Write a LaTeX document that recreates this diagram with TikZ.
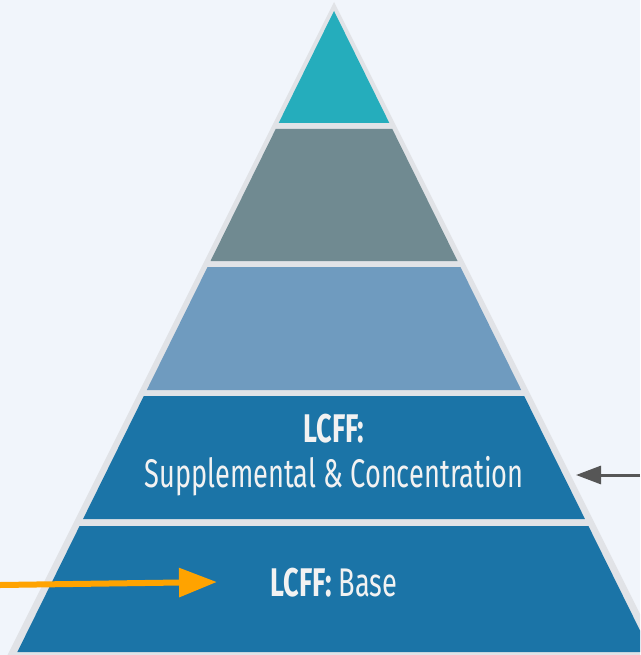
\documentclass[tikz,border=0pt]{standalone}
\usepackage{fontspec}
\setmainfont[FakeStretch=0.68]{Fira Sans}
\usepackage{tikz}
\usetikzlibrary{arrows.meta}
\definecolor{bgblue}{HTML}{F1F5FB}
\definecolor{rim}{HTML}{E1E3E7}
\definecolor{tealtop}{HTML}{25ADBC}
\definecolor{slategray}{HTML}{708A91}
\definecolor{paleblue}{HTML}{6F9BBF}
\definecolor{deepblue}{HTML}{1B74A7}
\definecolor{arrorange}{HTML}{FFA300}
\definecolor{arrgray}{HTML}{565656}
\definecolor{txtwhite}{HTML}{F2F2F2}

\begin{document}
\begin{tikzpicture} [x=1pt, y=-1pt]
\fill[bgblue] (0,0) rectangle (640,655);
\useasboundingbox (0,0) rectangle (640,655);
\begin{scope}
\clip (0,0) rectangle (640,655);
\fill[rim] (334,2)--(660.5,655)--(7.5,655)--cycle;

\foreach \ya/\yb/\col in {11/123/tealtop, 129/261/slategray, 267/390/paleblue, 396/519/deepblue, 526/652/deepblue} {
  \fill[\col] ({334-0.494*(\ya-11)},\ya)--({334+0.494*(\ya-11)},\ya)--({334+0.494*(\yb-11)},\yb)--({334-0.494*(\yb-11)},\yb)--cycle;
}
\end{scope}

\node[txtwhite, anchor=base, font=\fontsize{40}{40}\selectfont\bfseries, inner sep=0] (lcffsup) at (334,442) {LCFF:};
\node[txtwhite, anchor=base, font=\fontsize{40}{40}\selectfont, inner sep=0] (suppconc) at (334,487) {Supplemental \& Concentration};
\node[txtwhite, anchor=base, font=\fontsize{40}{40}\selectfont, inner sep=0] (lcffbase) at (334,596) {\textbf{LCFF:} Base};

\coordinate (orangestart) at (0,585);
\coordinate (orangeend) at (217,582);
\coordinate (graystart) at (640,475);
\coordinate (grayend) at (576,475);
\draw[arrorange, line width=6, -{Triangle[length=38,width=28]}] (orangestart)--(orangeend);
\draw[arrgray, line width=3, -{Triangle[length=25,width=18]}] (graystart)--(grayend);
\end{tikzpicture}
\end{document}
